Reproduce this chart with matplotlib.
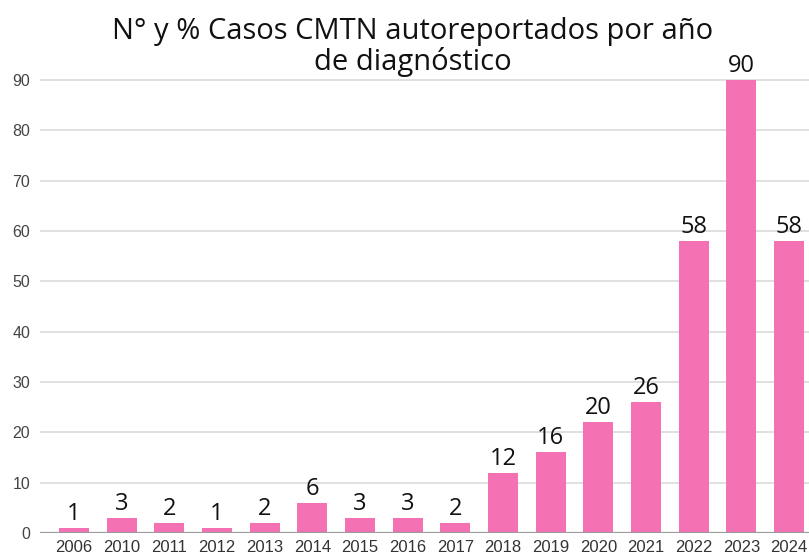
import matplotlib.pyplot as plt

anios = ['2006', '2010', '2011', '2012', '2013', '2014', '2015', '2016',
         '2017', '2018', '2019', '2020', '2021', '2022', '2023', '2024']
# altura de las barras
casos = [1, 3, 2, 1, 2, 6, 3, 3, 2, 12, 16, 22, 26, 58, 90, 58]
# etiquetas que aparecen sobre cada barra
etiquetas = ['1', '3', '2', '1', '2', '6', '3', '3', '2', '12', '16', '20',
             '26', '58', '90', '58']
yticks = [0, 10, 20, 30, 40, 50, 60, 70, 80, 90]

ROSA = '#f472b4'

fig = plt.figure(figsize=(8.09, 5.55), dpi=100)
ax = fig.add_axes([40 / 809, 22 / 555, 1 - 40 / 809, (533 - 65) / 555])

x = list(range(len(anios)))
barras = ax.bar(x, casos, width=0.63, color=ROSA, zorder=3)

for b, txt in zip(barras, etiquetas):
    ax.annotate(txt, (b.get_x() + b.get_width() / 2, b.get_height()),
                xytext=(0, 1.5), textcoords='offset points',
                ha='center', va='bottom', fontsize=17,
                family='Open Sans', color='#111111', zorder=4,
                annotation_clip=False)

ax.set_xlim(-0.71, 15.42)
ax.set_ylim(0, 93)
ax.set_yticks(yticks)
ax.set_xticks(x)
ax.set_xticklabels(anios)

ax.grid(axis='y', color='#e0e0e0', linewidth=1.4, zorder=0)
ax.axhline(0, color='#9a9a9a', linewidth=1.6, zorder=4)

for s in ax.spines.values():
    s.set_visible(False)

ax.tick_params(axis='both', length=0)
ax.tick_params(axis='y', pad=7, labelsize=11.5, labelcolor='#444444')
ax.tick_params(axis='x', pad=5, labelsize=12, labelcolor='#333333')
for t in ax.get_xticklabels() + ax.get_yticklabels():
    t.set_family('Liberation Sans')

fig.text(413 / 809, 1 - 47 / 555, 'N° y % Casos CMTN autoreportados por año\nde diagnóstico',
         ha='center', va='center', fontsize=21, family='Open Sans',
         color='#111111', linespacing=1.08)

fig.savefig('out.png', dpi=100)
